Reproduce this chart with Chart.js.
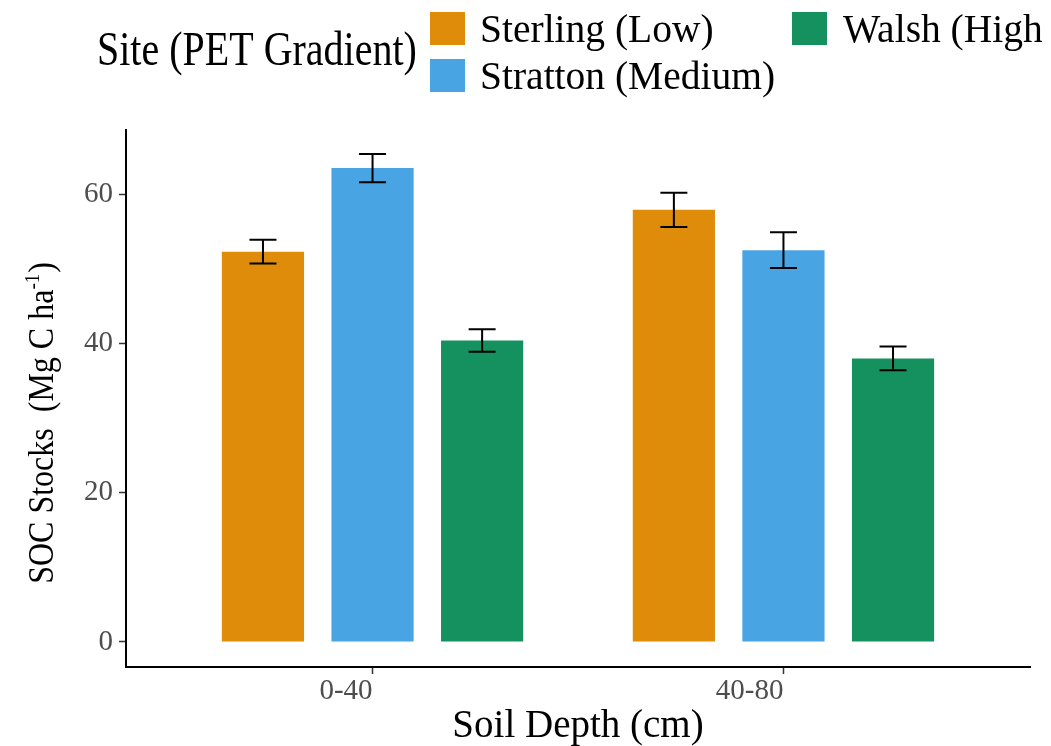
<!DOCTYPE html>
<html>
<head>
<meta charset="utf-8">
<script src="https://cdn.jsdelivr.net/npm/chart.js@4.4.1/dist/chart.umd.min.js"></script>
<style>
  html, body { margin: 0; padding: 0; background: #ffffff; }
  #wrap { width: 1051px; height: 746px; position: relative; }
</style>
</head>
<body>
<div id="wrap"><canvas id="c" width="1051" height="746"></canvas></div>
<script>
// ---- data ----
const categories = ['0-40', '40-80'];
const siteLabels = ['Sterling (Low)', 'Stratton (Medium)', 'Walsh (High)'];
const sterlingMeans = [52.3, 57.9];
const strattonMeans = [63.5, 52.5];
const walshMeans = [40.4, 38.0];
const sterlingSE = [1.6, 2.3];
const strattonSE = [1.9, 2.4];
const walshSE = [1.5, 1.6];
const yTickValues = [0, 20, 40, 60];
const siteColors = ['#df8c0a', '#49a4e3', '#15905f'];

const legendTitle = 'Site (PET Gradient)';
const yTitleMain = 'SOC Stocks  (Mg C ha';
const yTitleSup = '-1';
const yTitleEnd = ')';
const xTitle = 'Soil Depth (cm)';

const seriesMeans = [sterlingMeans, strattonMeans, walshMeans];
const seriesSE = [sterlingSE, strattonSE, walshSE];
const SERIF = '"Liberation Serif", "Times New Roman", serif';

const errorBarPlugin = {
  id: 'errorBars',
  afterDatasetsDraw(chart) {
    const ctx = chart.ctx;
    const y = chart.scales.y;
    ctx.save();
    ctx.strokeStyle = '#000';
    ctx.lineWidth = 2;
    seriesMeans.forEach((means, i) => {
      const meta = chart.getDatasetMeta(i);
      meta.data.forEach((bar, j) => {
        const se = seriesSE[i][j];
        const top = y.getPixelForValue(means[j] + se);
        const bot = y.getPixelForValue(means[j] - se);
        const half = 13.5;
        ctx.beginPath();
        ctx.moveTo(bar.x, top); ctx.lineTo(bar.x, bot);
        ctx.moveTo(bar.x - half, top); ctx.lineTo(bar.x + half, top);
        ctx.moveTo(bar.x - half, bot); ctx.lineTo(bar.x + half, bot);
        ctx.stroke();
      });
    });
    ctx.restore();
  }
};

const textPlugin = {
  id: 'texts',
  afterDraw(chart) {
    const ctx = chart.ctx;
    ctx.save();
    ctx.fillStyle = '#000';
    ctx.textBaseline = 'alphabetic';

    // legend title (vertically stretched)
    ctx.save();
    ctx.font = '40px ' + SERIF;
    ctx.textAlign = 'left';
    ctx.translate(97, 65);
    ctx.scale(1, 1.22);
    ctx.fillText(legendTitle, 0, 0);
    ctx.restore();

    // legend keys and labels
    const keys = [
      { x: 430, y: 12, tx: 480, ty: 42 },
      { x: 430, y: 59, tx: 480, ty: 89 },
      { x: 792, y: 12, tx: 843, ty: 42 }
    ];
    ctx.save();
    ctx.beginPath();
    ctx.rect(0, 0, 1042, 110);
    ctx.clip();
    ctx.font = '39.5px ' + SERIF;
    ctx.textAlign = 'left';
    keys.forEach((k, i) => {
      ctx.fillStyle = siteColors[i];
      ctx.fillRect(k.x, k.y, 35, 33);
      ctx.fillStyle = '#000';
      ctx.fillText(siteLabels[i], k.tx, k.ty);
    });
    ctx.restore();

    // y axis title (rotated) with superscript
    ctx.save();
    const fMain = '32px ' + SERIF;
    const fSup = '19px ' + SERIF;
    ctx.font = fMain;
    const w1 = ctx.measureText(yTitleMain).width;
    const w3 = ctx.measureText(yTitleEnd).width;
    ctx.font = fSup;
    const w2 = ctx.measureText(yTitleSup).width;
    const total = w1 + w2 + w3 + 1;
    ctx.translate(53, 423);
    ctx.rotate(-Math.PI / 2);
    ctx.scale(1, 1.1);
    ctx.textAlign = 'left';
    let x0 = -total / 2;
    ctx.font = fMain;
    ctx.fillText(yTitleMain, x0, 0);
    x0 += w1;
    ctx.font = fSup;
    ctx.fillText(yTitleSup, x0, -13);
    x0 += w2 + 1;
    ctx.font = fMain;
    ctx.fillText(yTitleEnd, x0, 0);
    ctx.restore();

    // x axis title
    ctx.font = '39px ' + SERIF;
    ctx.textAlign = 'center';
    ctx.fillText(xTitle, 578, 737);
    ctx.restore();
  }
};

const datasets = siteLabels.map((lab, i) => ({
  label: lab,
  data: seriesMeans[i],
  backgroundColor: siteColors[i],
  borderWidth: 0,
  categoryPercentage: 0.8,
  barPercentage: 0.75
}));

new Chart(document.getElementById('c'), {
  type: 'bar',
  data: { labels: categories, datasets },
  options: {
    responsive: false,
    animation: false,
    layout: { padding: { top: 130, left: 0, right: 21, bottom: 0 } },
    plugins: { legend: { display: false }, tooltip: { enabled: false } },
    scales: {
      x: {
        type: 'category',
        offset: false,
        grid: { display: true, offset: false, drawOnChartArea: false, drawTicks: true,
                tickLength: 7, tickColor: '#333', tickWidth: 1.5 },
        border: { display: true, color: '#000', width: 2 },
        ticks: { font: { family: SERIF, size: 29 }, color: '#4d4d4d', align: 'end', padding: 0, maxRotation: 0 },
        afterFit(s) { s.height = 79; },
        afterBuildTicks(s) { s._startValue = -0.6; s._valueRange = 2.2; }
      },
      y: {
        min: -3.35,
        max: 68.6,
        grid: { display: true, drawOnChartArea: false, drawTicks: true,
                tickLength: 7, tickColor: '#333', tickWidth: 1.5 },
        border: { display: true, color: '#000', width: 2 },
        ticks: { font: { family: SERIF, size: 29 }, color: '#4d4d4d', padding: 6 },
        afterBuildTicks(s) { s.ticks = yTickValues.map(v => ({ value: v })); },
        afterFit(s) { s.width = 126; }
      }
    }
  },
  plugins: [errorBarPlugin, textPlugin]
});
</script>
</body>
</html>
